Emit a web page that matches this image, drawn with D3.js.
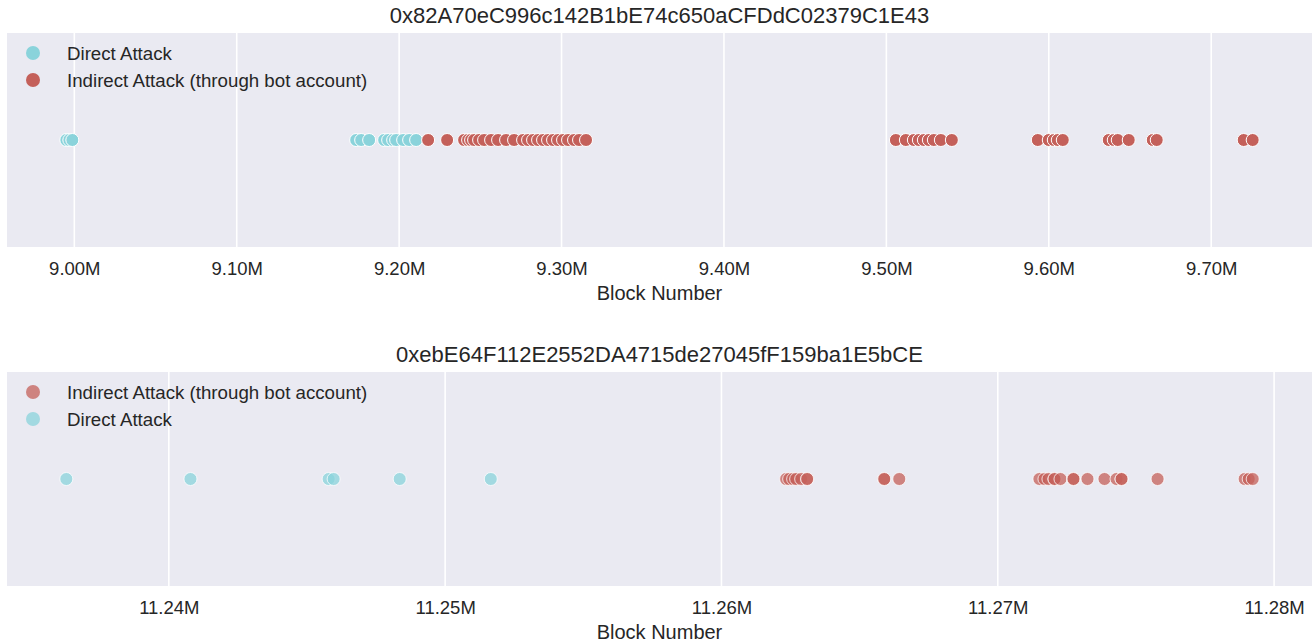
<!DOCTYPE html>
<html>
<head>
<meta charset="utf-8">
<script src="https://cdn.jsdelivr.net/npm/d3@7"></script>
<style>
  html, body { margin: 0; padding: 0; background: #ffffff; }
  svg { display: block; font-family: "Liberation Sans", Arial, sans-serif; }
</style>
</head>
<body>
<svg id="chart" width="1315" height="643"></svg>
<script>
// ---------- data ----------
const titleTop = "0x82A70eC996c142B1bE74c650aCFDdC02379C1E43";
const titleBottom = "0xebE64F112E2552DA4715de27045fF159ba1E5bCE";
const xLabel = "Block Number";
const labelDirect = "Direct Attack";
const labelIndirect = "Indirect Attack (through bot account)";

const topDirect = [8995077, 8996923, 8998769,
  9173538, 9176615, 9181538, 9190769, 9193231, 9196308, 9198154, 9202462, 9206154, 9210462];
const topIndirect = [9217846, 9229538, 9240000, 9242462, 9244308, 9246154, 9249231, 9252308,
  9256615, 9260923, 9265846, 9270769, 9276308, 9279385, 9282462, 9285538, 9288615, 9291692,
  9294769, 9297846, 9300923, 9304000, 9307692, 9310769, 9315077,
  9505846, 9512000, 9516923, 9520000, 9523077, 9526154, 9529231, 9533538, 9540308,
  9593231, 9600000, 9603077, 9605538, 9608615,
  9636923, 9640000, 9642462, 9649231,
  9664000, 9666462,
  9720000, 9725538];
const topTicks = [9000000, 9100000, 9200000, 9300000, 9400000, 9500000, 9600000, 9700000];

const bottomDirect = [11236290, 11240783, 11245783, 11245964, 11248355, 11251652];
const bottomIndirect = [11262341, 11262449, 11262594, 11262703, 11262884, 11263101, 11263101,
  11265891, 11265891, 11266435,
  11271507, 11271688, 11271833, 11272051, 11272051, 11272268, 11272739, 11272739,
  11273246, 11273862, 11274297, 11274478, 11274478, 11275783,
  11278935, 11279080, 11279225];
const bottomTicks = [11240000, 11250000, 11260000, 11270000, 11280000];

// ---------- styles ----------
const colDirect = "#8ad3db";
const colIndirect = "#c4605a";
const textCol = "#262626";
const bg = "#eaeaf2";

const svg = d3.select("#chart");
const plotLeft = 7, plotRight = 1312;

function panel(cfg) {
  const { top, height, title, direct, indirect, ticks, legendOrder, opacity } = cfg;
  const all = direct.concat(indirect);
  const ext = d3.extent(all);
  const pad = (ext[1] - ext[0]) * 0.05;
  const x = d3.scaleLinear().domain([ext[0] - pad, ext[1] + pad]).range([plotLeft, plotRight]);
  const y = d3.scaleLinear().domain([-1, 1]).range([top + height, top]);

  const g = svg.append("g");
  g.append("rect").attr("x", plotLeft).attr("y", top)
    .attr("width", plotRight - plotLeft).attr("height", height).attr("fill", bg);

  // grid
  g.selectAll("line.grid").data(ticks).enter().append("line")
    .attr("x1", d => x(d)).attr("x2", d => x(d))
    .attr("y1", top).attr("y2", top + height)
    .attr("stroke", "#ffffff").attr("stroke-width", 1.6);

  // axis
  const axis = d3.axisBottom(x).tickValues(ticks)
    .tickFormat(d => (d / 1e6).toFixed(2) + "M").tickSize(0).tickPadding(15);
  const ag = g.append("g").attr("transform", `translate(0,${top + height})`).call(axis);
  ag.select(".domain").remove();
  ag.selectAll("text").attr("font-size", 18.5).attr("fill", textCol)
    .attr("font-family", "'Liberation Sans', Arial, sans-serif");

  g.append("text").attr("x", (plotLeft + plotRight) / 2).attr("y", top + height + 53)
    .attr("text-anchor", "middle").attr("font-size", 20).attr("fill", textCol).text(xLabel);

  g.append("text").attr("x", (plotLeft + plotRight) / 2).attr("y", top - 10)
    .attr("text-anchor", "middle").attr("font-size", 22).attr("fill", textCol).text(title);

  // points
  const series = cfg.drawOrder.map(k => k === "direct"
    ? { vals: direct, col: colDirect } : { vals: indirect, col: colIndirect });
  series.forEach(s => {
    g.selectAll(null).data(s.vals).enter().append("circle")
      .attr("cx", d => x(d)).attr("cy", y(0)).attr("r", 6.5)
      .attr("fill", s.col).attr("fill-opacity", opacity)
      .attr("stroke", "#ffffff").attr("stroke-width", 1).attr("stroke-opacity", opacity);
  });

  // legend
  legendOrder.forEach((k, i) => {
    const ly = top + 20 + i * 27;
    g.append("circle").attr("cx", 33).attr("cy", ly).attr("r", 7)
      .attr("fill", k === "direct" ? colDirect : colIndirect).attr("fill-opacity", opacity);
    g.append("text").attr("x", 67).attr("y", ly).attr("dy", "0.35em")
      .attr("font-size", 18.7).attr("fill", textCol)
      .text(k === "direct" ? labelDirect : labelIndirect);
  });
}

panel({ top: 33, height: 214, title: titleTop, direct: topDirect, indirect: topIndirect,
  ticks: topTicks, legendOrder: ["direct", "indirect"], drawOrder: ["direct", "indirect"], opacity: 1 });
panel({ top: 372, height: 214, title: titleBottom, direct: bottomDirect, indirect: bottomIndirect,
  ticks: bottomTicks, legendOrder: ["indirect", "direct"], drawOrder: ["indirect", "direct"], opacity: 0.75 });
</script>
</body>
</html>
